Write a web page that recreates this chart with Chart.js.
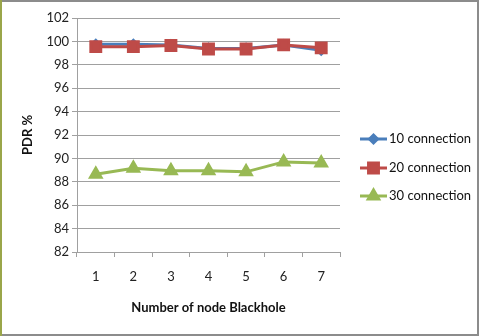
<!DOCTYPE html>
<html>
<head>
<meta charset="utf-8">
<script src="https://cdn.jsdelivr.net/npm/chart.js@4/dist/chart.umd.min.js"></script>
<style>
  html, body { margin: 0; padding: 0; background: #fff; }
  #wrap { width: 479px; height: 336px; position: relative; }
</style>
</head>
<body>
<div id="wrap"><canvas id="pdrChart" width="479" height="336"></canvas></div>
<script>
// data
const blackholeNodes = ["1", "2", "3", "4", "5", "6", "7"];
const conn10 = [99.75, 99.75, 99.7, 99.4, 99.4, 99.7, 99.25];
const conn20 = [99.55, 99.55, 99.65, 99.35, 99.35, 99.7, 99.45];
const conn30 = [88.65, 89.15, 88.95, 88.95, 88.85, 89.7, 89.6];
const seriesNames = ["10 connection", "20 connection", "30 connection"];

const FONT = "Lato, 'Open Sans', sans-serif";

// frame around the whole picture
const framePlugin = {
    id: "frame",
    beforeDraw(chart) {
        const ctx = chart.ctx;
        ctx.save();
        ctx.fillStyle = "#fff";
        ctx.fillRect(0, 0, chart.width, chart.height);
        ctx.strokeStyle = "#8c8c8c";
        ctx.lineWidth = 2;
        ctx.strokeRect(1, 1, chart.width - 2, chart.height - 2);
        ctx.strokeStyle = "#9aa64a";
        ctx.beginPath();
        ctx.moveTo(1, 0);
        ctx.lineTo(1, chart.height);
        ctx.stroke();
        ctx.restore();
    }
};

// excel style legend: line with marker, then text
const legendPlugin = {
    id: "sideLegend",
    afterDraw(chart) {
        const ctx = chart.ctx;
        const rows = [139, 168, 196];
        ctx.save();
        chart.data.datasets.forEach((ds, i) => {
            const y = rows[i];
            ctx.strokeStyle = ds.borderColor;
            ctx.lineWidth = 3;
            ctx.beginPath();
            ctx.moveTo(360, y);
            ctx.lineTo(387, y);
            ctx.stroke();
            ctx.fillStyle = ds.pointBackgroundColor;
            ctx.strokeStyle = ds.pointBorderColor;
            Chart.helpers.drawPoint(ctx, {
                pointStyle: ds.pointStyle,
                radius: ds.pointRadius,
                rotation: ds.pointRotation || 0,
                borderWidth: 1
            }, 373.5, y);
            ctx.fillStyle = "#111";
            ctx.font = "13px " + FONT;
            ctx.textBaseline = "middle";
            ctx.textAlign = "left";
            ctx.fillText(ds.label, 389, y);
        });
        ctx.restore();
    }
};

new Chart(document.getElementById("pdrChart"), {
    type: "line",
    data: {
        labels: blackholeNodes,
        datasets: [
            {
                label: seriesNames[0],
                data: conn10,
                borderColor: "#4a7ebb",
                borderWidth: 3,
                pointStyle: "rectRot",
                pointRadius: 4,
                pointBackgroundColor: "#4a7ebb",
                pointBorderColor: "#4a7ebb",
                order: 2
            },
            {
                label: seriesNames[1],
                data: conn20,
                borderColor: "#be4b48",
                borderWidth: 3,
                pointStyle: "rect",
                pointRadius: 7,
                pointBackgroundColor: "#be4b48",
                pointBorderColor: "#be4b48",
                order: 1
            },
            {
                label: seriesNames[2],
                data: conn30,
                borderColor: "#98b954",
                borderWidth: 3,
                pointStyle: "triangle",
                pointRadius: 6,
                pointBackgroundColor: "#98b954",
                pointBorderColor: "#98b954",
                order: 0
            }
        ]
    },
    options: {
        responsive: false,
        animation: false,
        events: [],
        layout: { padding: { top: 18, right: 139, bottom: 0, left: 0 } },
        plugins: {
            legend: { display: false },
            tooltip: { enabled: false }
        },
        elements: { line: { tension: 0 } },
        scales: {
            x: {
                offset: true,
                afterFit(scale) { scale.height = 84; },
                grid: {
                    offset: true,
                    drawOnChartArea: false,
                    drawTicks: true,
                    tickLength: 5,
                    color: "#a0a0a0"
                },
                border: { color: "#a0a0a0" },
                ticks: { color: "#222", font: { family: FONT, size: 13 }, padding: 12 },
                title: {
                    display: true,
                    text: "Number of node Blackhole",
                    color: "#111",
                    font: { family: FONT, size: 13, weight: "bold" },
                    padding: { top: 0, bottom: 20 }
                }
            },
            y: {
                min: 82,
                max: 102,
                afterFit(scale) { scale.width = 77; },
                grid: { color: "#a0a0a0", tickLength: 5 },
                border: { color: "#a0a0a0" },
                ticks: { stepSize: 2, color: "#222", font: { family: FONT, size: 13 }, padding: 3 },
                title: {
                    display: true,
                    text: "PDR %",
                    color: "#111",
                    font: { family: FONT, size: 13, weight: "bold" },
                    padding: { top: 20, bottom: 0 }
                }
            }
        }
    },
    plugins: [framePlugin, legendPlugin]
});
</script>
</body>
</html>
